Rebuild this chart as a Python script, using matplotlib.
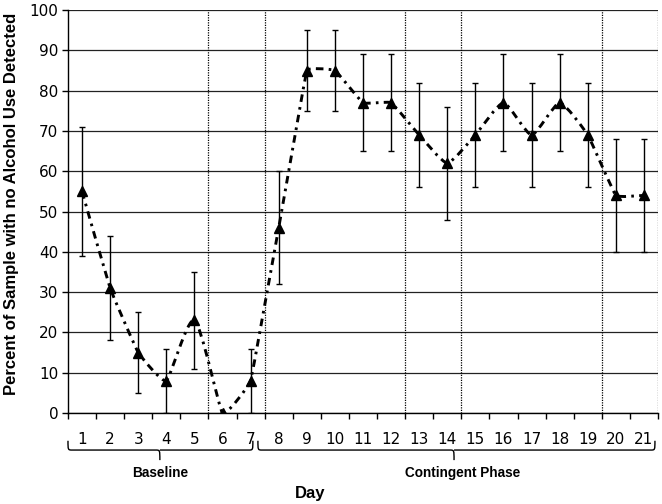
import matplotlib
matplotlib.use("Agg")
import matplotlib.pyplot as plt
import matplotlib.transforms as mtransforms
from matplotlib.path import Path
from matplotlib.patches import PathPatch
import numpy as np

days = list(range(1, 22))
percent = [55, 31, 15, 8, 23, 0, 8, 46, 85, 85, 77, 77, 69, 62, 69, 77, 69, 77, 69, 54, 54]
err = [16, 13, 10, 8, 12, 0, 8, 14, 10, 10, 12, 12, 13, 14, 13, 12, 13, 12, 13, 14, 14]
phase_breaks = [5.5, 7.5, 12.5, 14.5, 19.5, 21.5]
phases = [("Baseline", 0.5, 7.08, 3.77), ("Contingent Phase", 7.26, 21.39, 14.24)]

BOLD_FONT = ["Liberation Sans", "DejaVu Sans"]


def smooth_path(ax, x, y, k=0.12):
    # mild smoothing in pixel space; arm length limited by the shorter
    # neighbouring segment so flat runs stay flat
    pts = ax.transData.transform(np.column_stack([x, y]).astype(float))
    n = len(pts)
    seglen = np.hypot(*(np.diff(pts, axis=0).T))
    arms = []
    for i in range(n):
        d = pts[min(i + 1, n - 1)] - pts[max(i - 1, 0)]
        unit = d / (np.hypot(*d) or 1.0)
        near = [seglen[j] for j in (i - 1, i) if 0 <= j < n - 1]
        arms.append(unit * min(near) * k)
    verts = [pts[0]]
    codes = [Path.MOVETO]
    for i in range(n - 1):
        verts += [pts[i] + arms[i], pts[i + 1] - arms[i + 1], pts[i + 1]]
        codes += [Path.CURVE4] * 3
    inv = ax.transData.inverted()
    return Path(inv.transform(np.array(verts)), codes)


def brace(ax, x0, x1, xm, y_line=-0.092, y_end=-0.069, y_tip=-0.117):
    trans = mtransforms.blended_transform_factory(ax.transData, ax.transAxes)
    r = 0.15
    verts = [(x0, y_end), (x0, y_line), (x0, y_line), (x0 + r, y_line),
             (xm - r, y_line), (xm, y_line), (xm, y_line), (xm, y_tip),
             (xm, y_line), (xm, y_line), (xm + r, y_line),
             (x1 - r, y_line), (x1, y_line), (x1, y_line), (x1, y_end)]
    codes = [Path.MOVETO, Path.CURVE4, Path.CURVE4, Path.CURVE4,
             Path.LINETO, Path.CURVE4, Path.CURVE4, Path.CURVE4,
             Path.MOVETO, Path.CURVE3, Path.CURVE3,
             Path.LINETO, Path.CURVE4, Path.CURVE4, Path.CURVE4]
    ax.add_patch(PathPatch(Path(verts, codes), fill=False, lw=1.0,
                           color="black", transform=trans, clip_on=False))


fig = plt.figure(figsize=(6.62, 5.04), dpi=100)
ax = fig.add_axes([0.1027, 0.1806, 0.8913, 0.7994])

ax.set_xlim(0.5, 21.5)
ax.set_ylim(0, 100)
ax.set_yticks(range(0, 101, 10))
ax.yaxis.grid(True, color="#222222", lw=0.9)
ax.set_axisbelow(True)

for xb in phase_breaks:
    ax.axvline(xb, color="black", lw=0.9, ls=(0, (1, 1)), zorder=1)

ax.add_patch(PathPatch(smooth_path(ax, days, percent), fill=False, color="black",
                       lw=2.1, ls=(0, (2.6, 1.8, 0.9, 1.8)), zorder=3))
ax.errorbar(days, percent, yerr=err, fmt="none", ecolor="black",
            elinewidth=1.0, capsize=2.3, capthick=1.0, zorder=4)
ax.plot(days, percent, ls="none", marker="^", ms=7.5, color="black", zorder=5)

ax.set_xticks(days)
ax.set_xticks(np.arange(0.5, 21.6, 1), minor=True)
ax.tick_params(axis="x", which="major", length=0, pad=14, labelsize=11)
ax.tick_params(axis="x", which="minor", length=4, width=1)
ax.tick_params(axis="y", length=4, width=1, pad=3, labelsize=11)

for side in ["top", "right"]:
    ax.spines[side].set_visible(False)
ax.spines["left"].set_linewidth(1.0)
ax.spines["bottom"].set_linewidth(1.0)

trans = mtransforms.blended_transform_factory(ax.transData, ax.transAxes)
for name, x0, x1, xm in phases:
    brace(ax, x0, x1, xm)
    ax.text(xm + (0.3 if name != "Baseline" else 0), -0.150, name,
            transform=trans, ha="center", va="center",
            fontsize=9.8, fontweight="bold", family=BOLD_FONT)

ax.text(0.41, -0.199, "Day", transform=ax.transAxes, ha="center", va="center",
        fontsize=12, fontweight="bold", family=BOLD_FONT)
ax.text(-0.095, 0.519, "Percent of Sample with no Alcohol Use Detected",
        transform=ax.transAxes, rotation=90, ha="center", va="center",
        fontsize=12.0, fontweight="bold", family=BOLD_FONT)

fig.savefig("out.png", dpi=100)
